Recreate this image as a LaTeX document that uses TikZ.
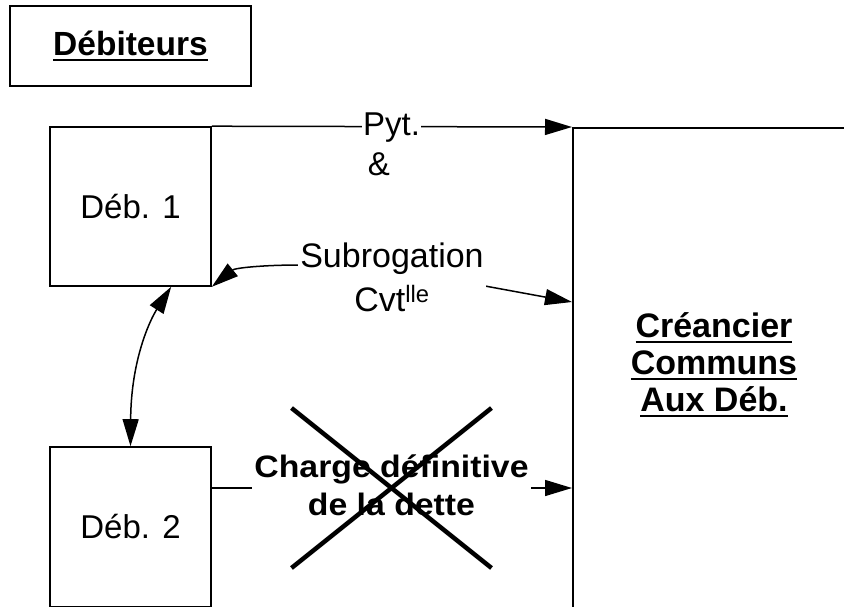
\documentclass[tikz,border=0pt]{standalone}
\usepackage{fontspec}
\setmainfont{Liberation Sans}
\usetikzlibrary{arrows.meta,calc}
% underline drawn as a rule below the baseline
\newcommand{\ulin}[1]{\setbox0=\hbox{#1}\rlap{\rule[-5.8pt]{\wd0}{2.6pt}}\box0}
\begin{document}
\begin{tikzpicture}[x=1pt,y=-1pt,
  box/.style={draw, line width=1.6pt, inner sep=0pt},
  conn/.style={line width=1.5pt},
  tip/.style={-{Triangle[length=27pt,width=16pt]}},
  bothtips/.style={{Triangle[length=27pt,width=16pt]}-{Triangle[length=27pt,width=16pt]}},
  txt/.style={font=\fontsize{33}{38}\selectfont},
  boldtxt/.style={font=\fontsize{34}{37}\selectfont\bfseries},
  lbl/.style={fill=white, inner sep=2pt}]
\useasboundingbox (0,0) rectangle (844,606);
\clip (0,0) rectangle (844,606);

% boxes
\node[box, minimum width=241pt, minimum height=80pt,
      font=\fontsize{33.5}{38}\selectfont\bfseries] (deb) at (130.5,46) {\ulin{Débiteurs}};
\node[box, txt, minimum width=161pt, minimum height=159pt] (d1) at (130.5,206.5) {Déb. 1};
\node[box, txt, minimum width=161pt, minimum height=160pt] (d2) at (130.5,527) {Déb. 2};
\node[box, minimum width=300pt, minimum height=520pt, anchor=north west] (cr) at (572,127) {};
\node[boldtxt, align=center] (crt) at (714,365)
  {\ulin{Créancier}\\\ulin{Communs}\\\ulin{Aux Déb.}};

% payment
\draw[conn, tip] (d1.north east) -- (cr.north west);
\node[lbl, txt, inner sep=1.5pt, anchor=base] (pyt) at (391.5,135) {Pyt.};
\node[txt, anchor=base] (amp) at (379,175) {\&};

% subrogation
\coordinate (s1) at (300,265);
\coordinate (s2) at (485,286);
\coordinate (subend) at (0,302);
\draw[conn, bothtips] (d1.south east) .. controls (235,268) and (262,265) .. (s1)
  -- (s2) -- (cr.west |- subend);
\node[lbl, font=\fontsize{34}{44}\selectfont, align=center] (sub) at (392,277.5)
  {Subrogation\\Cvt\textsuperscript{lle}};

% between the two debtors
\draw[conn, bothtips] ($(d1.south west)!0.75!(d1.south east)$)
  .. controls (150,320) and (131,360) .. (d2.north);

% final burden, crossed out
\coordinate (chgline) at (391.5,488);
\draw[conn, tip] (d2.east |- chgline) -- (cr.west |- chgline);
\node[lbl, font=\fontsize{31}{38}\selectfont\bfseries, align=center] (chg) at (391.5,485.5)
  {\scalebox{1.09}[1]{Charge définitive}\\\scalebox{1.09}[1]{de la dette}};
\draw[line width=4.5pt] ($(chgline)+(-100,-80)$) -- ($(chgline)+(100,80)$);
\draw[line width=4.5pt] ($(chgline)+(-100,80)$) -- ($(chgline)+(100,-80)$);
\end{tikzpicture}
\end{document}
